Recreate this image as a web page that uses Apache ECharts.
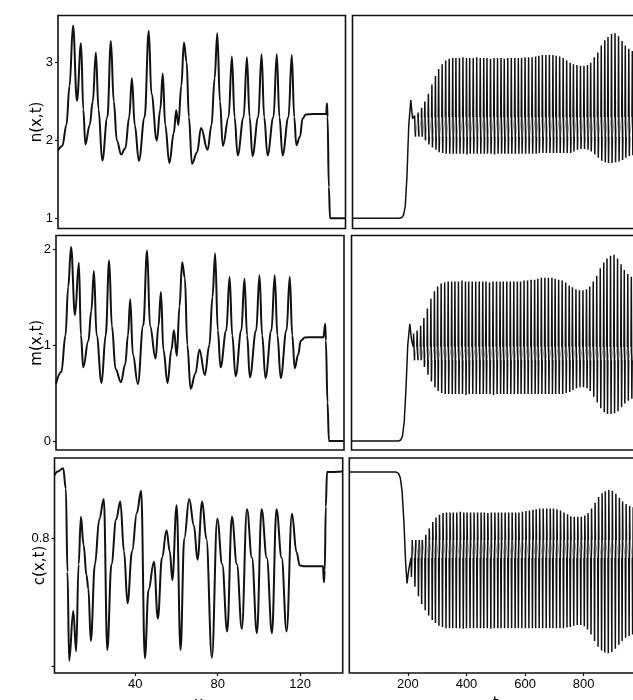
<!DOCTYPE html>
<html>
<head>
<meta charset="utf-8">
<script src="https://cdn.jsdelivr.net/npm/echarts@6/dist/echarts.min.js"></script>
<style>
  html, body { margin: 0; padding: 0; background: #fff; }
  #chart { width: 633px; height: 700px; }
</style>
</head>
<body>
<div id="chart"></div>
<script>
// ---- spatial profiles (left column): x positions and values ----
const nX = [0.9, 3, 5, 6.5, 8.2, 10.1, 12.1, 13.2, 14.2, 16.3, 17.8, 19.3, 20.6, 22.4, 24.9, 26.6, 28, 29.5, 31.6, 33.6, 35.5, 36.8, 38.2, 40.2, 43.0, 45.0, 46.3, 48.9, 50.6, 51.8, 53.0, 55.0, 57.2, 58.3, 59.4, 60.8, 62.1, 63.4, 64.5, 66.0, 68.5, 70.4, 73.6, 75.5, 77.0, 78.3, 79.6, 81.0, 83.8, 85.4, 86.7, 88.2, 91.1, 92.7, 94.0, 95.4, 98.2, 99.8, 101.1, 102.7, 105.6, 107.2, 108.5, 110.0, 112.9, 114.5, 115.7, 116.7, 118.5, 119.7, 121.3, 125, 131.2, 131.6, 131.9, 132.5, 133.1, 140.6];
const nV = [1.87, 1.93, 2.2, 2.7, 3.48, 2.51, 3.25, 2.4, 1.95, 2.2, 2.5, 3.13, 2.4, 1.74, 2.3, 3.28, 2.5, 2.0, 1.82, 1.9, 2.3, 2.8, 2.2, 1.74, 2.3, 3.41, 2.6, 2.0, 2.4, 2.86, 2.2, 1.71, 2.1, 2.39, 2.2, 2.7, 3.26, 3.01, 2.3, 1.70, 1.85, 2.16, 1.88, 2.2, 2.8, 3.38, 2.5, 1.93, 2.3, 3.08, 2.3, 1.81, 2.3, 3.07, 2.3, 1.80, 2.3, 3.11, 2.3, 1.81, 2.3, 3.11, 2.3, 1.81, 2.3, 3.10, 2.3, 1.94, 2.05, 2.28, 2.335, 2.34, 2.34, 2.48, 2.3, 1.4, 1.0, 1.0];

const mX = [0.9, 3.5, 5.5, 6.8, 8.2, 10.1, 12.0, 13.0, 14.1, 16.6, 18.0, 19.3, 20.6, 23.0, 25.0, 26.7, 28.0, 29.8, 32.4, 34.5, 35.8, 36.9, 38.2, 40.6, 43.2, 45.1, 46.5, 49.2, 50.6, 51.8, 53.0, 55.0, 56.9, 58.1, 59.5, 60.8, 62.1, 63.4, 64.6, 66.2, 68.5, 70.5, 73.1, 75.3, 76.8, 78.1, 79.4, 80.7, 83.5, 85.1, 86.4, 88.0, 90.8, 92.3, 93.6, 94.9, 98.0, 99.6, 100.9, 102.5, 105.4, 107.0, 108.3, 109.9, 112.7, 114.3, 115.5, 116.7, 118.4, 119.6, 121.6, 126, 130.6, 131.5, 131.8, 132.6, 133.3, 140.6];
const mV = [0.594, 0.72, 1.1, 1.6, 2.02, 1.31, 1.855, 1.1, 0.767, 1.043, 1.35, 1.77, 1.1, 0.605, 1.1, 1.88, 1.2, 0.75, 0.612, 0.8, 1.1, 1.475, 0.9, 0.594, 1.2, 1.983, 1.2, 0.86, 1.2, 1.551, 0.95, 0.605, 0.95, 1.154, 0.888, 1.4, 1.862, 1.70, 1.0, 0.543, 0.7, 0.95, 0.688, 1.0, 1.5, 1.952, 1.15, 0.767, 1.15, 1.71, 1.1, 0.674, 1.15, 1.689, 1.1, 0.663, 1.15, 1.727, 1.1, 0.656, 1.15, 1.727, 1.1, 0.656, 1.15, 1.71, 1.1, 0.757, 0.9, 1.043, 1.078, 1.08, 1.08, 1.22, 1.05, 0.4, 0.0, 0.0];

const cX = [0.9, 2.5, 5.1, 6.4, 7.2, 8.0, 10.0, 11.4, 12.6, 13.7, 15.0, 16.4, 17.3, 18.5, 20.5, 22.6, 24.8, 26.5, 28.5, 30.8, 32.8, 34.6, 36.3, 38.5, 40.8, 42.9, 44.7, 46.5, 49.1, 51.0, 53.0, 55.2, 56.8, 58.0, 60.1, 62.0, 63.8, 66.2, 68.5, 70.2, 72.5, 74.5, 77.2, 79.8, 82.2, 84.6, 86.9, 89.3, 91.7, 94.2, 96.6, 99.0, 101.3, 103.8, 106.3, 108.5, 111.0, 113.4, 116.0, 118.2, 119.8, 121.5, 131.0, 131.5, 131.9, 132.4, 133.0, 140.6];
const cV = [0.899, 0.905, 0.910, 0.878, 0.748, 0.609, 0.687, 0.624, 0.76, 0.834, 0.79, 0.743, 0.722, 0.640, 0.76, 0.83, 0.862, 0.626, 0.76, 0.83, 0.858, 0.78, 0.699, 0.78, 0.84, 0.875, 0.613, 0.72, 0.764, 0.675, 0.77, 0.813, 0.78, 0.735, 0.852, 0.626, 0.8, 0.862, 0.82, 0.767, 0.858, 0.8, 0.614, 0.831, 0.76, 0.655, 0.834, 0.76, 0.659, 0.846, 0.77, 0.652, 0.846, 0.77, 0.652, 0.846, 0.77, 0.655, 0.839, 0.779, 0.758, 0.757, 0.757, 0.732, 0.75, 0.85, 0.904, 0.905];

// ---- time series (right column) ----
// start-up segment before the oscillations
const initT = [0, 160, 168, 174, 180, 186, 192, 199, 205];
const nInit = [1.0, 1.0, 1.01, 1.04, 1.15, 1.55, 2.2, 2.52, 2.28];
const mInit = [0.0, 0.0, 0.01, 0.05, 0.2, 0.55, 1.0, 1.22, 1.05];
const cInitT = [0, 160, 168, 174, 180, 186, 192, 197, 203];
const cInit = [0.904, 0.904, 0.902, 0.895, 0.875, 0.83, 0.765, 0.73, 0.752];

// time of each oscillation spike
const cycleT = [212, 224, 236, 247, 259, 271, 283, 294, 306, 318,
  330, 342, 353, 365, 377, 389, 400, 412, 424, 436,
  448, 459, 471, 483, 495, 507, 518, 530, 542, 554,
  566, 577, 589, 601, 613, 625, 636, 648, 660, 672,
  684, 695, 707, 719, 731, 743, 754, 766, 778, 790,
  802, 813, 825, 837, 849, 861, 872, 884, 896, 908,
  920, 931, 943, 955, 967, 979, 990];

// spike maxima / minima per cycle
const nHi = [2.32, 2.36, 2.42, 2.50, 2.60, 2.72, 2.83, 2.92, 2.98, 3.03,
  3.05, 3.06, 3.06, 3.06, 3.07, 3.06, 3.06, 3.06, 3.07, 3.06,
  3.06, 3.06, 3.05, 3.06, 3.06, 3.06, 3.05, 3.06, 3.06, 3.06,
  3.06, 3.06, 3.07, 3.07, 3.07, 3.08, 3.09, 3.10, 3.10, 3.10,
  3.10, 3.09, 3.08, 3.06, 3.03, 3.00, 2.98, 2.97, 2.96, 2.96,
  2.97, 3.00, 3.07, 3.13, 3.22, 3.29, 3.33, 3.37, 3.38, 3.34,
  3.28, 3.22, 3.18, 3.15, 3.12, 3.10, 3.08];
const nLo = [2.12, 2.08, 2.05, 2.00, 1.95, 1.91, 1.88, 1.85, 1.84, 1.83,
  1.83, 1.83, 1.83, 1.83, 1.83, 1.82, 1.83, 1.83, 1.83, 1.83,
  1.83, 1.83, 1.83, 1.82, 1.83, 1.83, 1.83, 1.83, 1.83, 1.83,
  1.83, 1.83, 1.83, 1.83, 1.83, 1.83, 1.84, 1.84, 1.84, 1.84,
  1.84, 1.84, 1.84, 1.84, 1.84, 1.84, 1.86, 1.88, 1.89, 1.89,
  1.88, 1.86, 1.82, 1.78, 1.74, 1.72, 1.71, 1.71, 1.72, 1.73,
  1.75, 1.78, 1.80, 1.81, 1.82, 1.83, 1.83];
const mHi = [1.12, 1.15, 1.20, 1.28, 1.38, 1.48, 1.56, 1.61, 1.64, 1.65,
  1.66, 1.66, 1.66, 1.66, 1.67, 1.66, 1.66, 1.66, 1.66, 1.66,
  1.66, 1.66, 1.65, 1.66, 1.66, 1.66, 1.66, 1.66, 1.66, 1.66,
  1.66, 1.66, 1.67, 1.67, 1.68, 1.68, 1.69, 1.70, 1.70, 1.70,
  1.70, 1.69, 1.68, 1.67, 1.65, 1.62, 1.60, 1.58, 1.57, 1.57,
  1.58, 1.61, 1.66, 1.72, 1.80, 1.86, 1.90, 1.93, 1.94, 1.90,
  1.84, 1.78, 1.74, 1.71, 1.69, 1.67, 1.66];
const mLo = [0.95, 0.90, 0.84, 0.77, 0.69, 0.62, 0.56, 0.52, 0.50, 0.49,
  0.49, 0.49, 0.49, 0.49, 0.49, 0.48, 0.49, 0.49, 0.49, 0.49,
  0.49, 0.49, 0.49, 0.48, 0.49, 0.49, 0.49, 0.49, 0.49, 0.49,
  0.49, 0.49, 0.49, 0.49, 0.49, 0.49, 0.49, 0.49, 0.49, 0.49,
  0.49, 0.49, 0.49, 0.49, 0.50, 0.51, 0.53, 0.55, 0.56, 0.56,
  0.55, 0.52, 0.46, 0.40, 0.34, 0.30, 0.28, 0.28, 0.29, 0.31,
  0.35, 0.39, 0.42, 0.44, 0.46, 0.47, 0.48];
const cHi = [0.772, 0.778, 0.786, 0.796, 0.806, 0.816, 0.826, 0.833, 0.837, 0.840,
  0.841, 0.841, 0.841, 0.841, 0.842, 0.841, 0.841, 0.841, 0.841, 0.841,
  0.841, 0.841, 0.840, 0.841, 0.841, 0.841, 0.841, 0.841, 0.841, 0.841,
  0.841, 0.841, 0.842, 0.843, 0.844, 0.845, 0.846, 0.847, 0.847, 0.847,
  0.847, 0.847, 0.846, 0.844, 0.841, 0.838, 0.835, 0.834, 0.834, 0.834,
  0.836, 0.840, 0.847, 0.856, 0.865, 0.871, 0.874, 0.876, 0.875, 0.870,
  0.864, 0.858, 0.854, 0.851, 0.849, 0.847, 0.846];
const cLo = [0.740, 0.725, 0.710, 0.698, 0.688, 0.680, 0.673, 0.668, 0.664, 0.662,
  0.660, 0.660, 0.660, 0.660, 0.660, 0.659, 0.660, 0.660, 0.660, 0.660,
  0.660, 0.660, 0.660, 0.659, 0.660, 0.660, 0.660, 0.660, 0.660, 0.660,
  0.660, 0.660, 0.660, 0.660, 0.660, 0.660, 0.660, 0.660, 0.660, 0.660,
  0.660, 0.660, 0.660, 0.660, 0.660, 0.661, 0.662, 0.664, 0.665, 0.665,
  0.663, 0.658, 0.650, 0.640, 0.631, 0.625, 0.622, 0.621, 0.623, 0.628,
  0.634, 0.640, 0.645, 0.648, 0.650, 0.652, 0.654];
// slow part of each cycle between spikes: [after spike, before next spike]
const nBand = [2.05, 2.30];
const mBand = [0.84, 0.98];
const cBand = [0.798, 0.770];

// ---- axis ticks ----
const nTicks = [1, 2, 3];
const mTicks = [0, 1, 2];
const cTicks = [0.6, 0.8];
const cLabels = [0.8];
const xTicks = [40, 80, 120];
const tTicks = [200, 400, 600, 800];

const pairs = (xs, ys) => xs.map((x, i) => [x, ys[i]]);

// fast spikes (one broken polyline) and the slow drift between them
function spikeTrain(t0, v0, first, second, band) {
  const spikes = pairs(t0, v0);
  const drift = [];
  cycleT.forEach((t, i) => {
    spikes.push([t - 1.2, band[1]], [t, first[i]], [t + 1.8, second[i]], [t + 3, band[0]], [t + 3.05, '-']);
    if (i + 1 < cycleT.length) {
      drift.push([t + 3, band[0]], [cycleT[i + 1] - 1.2, band[1]], [cycleT[i + 1] - 1.15, '-']);
    }
  });
  return { spikes, drift };
}

const FONT = 'Liberation Sans';
const NAME_FONT = 'DejaVu Sans';
const INK = '#111';

// fixed panel rectangles; no automatic shrinking to fit names
const grids = [
  { left: 58, top: 15.5, width: 287.5, height: 213 },
  { left: 56, top: 235.5, width: 288, height: 214.5 },
  { left: 54.5, top: 458, width: 288.2, height: 215 },
  { left: 352.5, top: 15.5, width: 293, height: 213 },
  { left: 351.5, top: 235.5, width: 293, height: 214.5 },
  { left: 349.3, top: 458, width: 293, height: 215 }
].map(g => Object.assign({
  show: true, borderColor: INK, borderWidth: 1.6,
  containLabel: false, outerBoundsMode: 'none'
}, g));

const yRanges = [[0.869, 3.607], [-0.094, 2.14], [0.590, 0.926]];
const yTickSets = [nTicks, mTicks, cTicks];
const yLabelSets = [nTicks, mTicks, cLabels];
const yNames = ['n(x,t)', 'm(x,t)', 'c(x,t)'];
const yNameGaps = [13, 11, 7];

const yAxes = [];
for (let col = 0; col < 2; col++) {
  for (let r = 0; r < 3; r++) {
    const left = col === 0;
    yAxes.push({
      type: 'value', gridIndex: col * 3 + r,
      min: yRanges[r][0], max: yRanges[r][1],
      axisLine: { show: false },
      splitLine: { show: false },
      axisTick: { show: left, length: 3, inside: false, lineStyle: { color: INK, width: 1.2 }, customValues: yTickSets[r] },
      axisLabel: { show: left, margin: 5, color: '#000', fontFamily: FONT, fontSize: 13, customValues: yLabelSets[r] },
      name: left ? yNames[r] : '',
      nameLocation: 'middle', nameGap: yNameGaps[r], nameRotate: 90,
      nameMoveOverlap: false,
      nameTextStyle: { color: '#000', fontFamily: NAME_FONT, fontSize: 15 }
    });
  }
}

const xAxes = [];
for (let col = 0; col < 2; col++) {
  for (let r = 0; r < 3; r++) {
    const bottom = r === 2;
    const left = col === 0;
    xAxes.push({
      type: 'value', gridIndex: col * 3 + r,
      min: left ? 0.9 : 0, max: left ? 140.6 : 1000,
      axisLine: { show: false },
      splitLine: { show: false },
      axisTick: { show: bottom, length: 3, lineStyle: { color: INK, width: 1.2 }, customValues: left ? xTicks : tTicks },
      axisLabel: { show: bottom, margin: 5, color: '#000', fontFamily: FONT, fontSize: 13, customValues: left ? xTicks : tTicks },
      name: bottom ? (left ? 'x' : 't') : '',
      nameLocation: 'middle', nameGap: 24,
      nameMoveOverlap: false,
      nameTextStyle: { color: '#000', fontFamily: NAME_FONT, fontSize: 15 }
    });
  }
}

const leftLine = (idx, data) => ({
  type: 'line', xAxisIndex: idx, yAxisIndex: idx, data,
  showSymbol: false, smooth: 0.4, smoothMonotone: 'x',
  lineStyle: { color: INK, width: 2 }, animation: false
});
const rightLines = (idx, parts) => [
  {
    type: 'line', xAxisIndex: idx, yAxisIndex: idx, data: parts.drift,
    showSymbol: false, connectNulls: false,
    lineStyle: { color: '#8a8a8a', width: 0.8 }, animation: false
  },
  {
    type: 'line', xAxisIndex: idx, yAxisIndex: idx, data: parts.spikes,
    showSymbol: false, connectNulls: false,
    lineStyle: { color: INK, width: 1.5 }, animation: false
  }
];

const chart = echarts.init(document.getElementById('chart'), null, { renderer: 'canvas' });
chart.setOption({
  backgroundColor: '#fff',
  animation: false,
  grid: grids,
  xAxis: xAxes,
  yAxis: yAxes,
  series: [
    leftLine(0, pairs(nX, nV)),
    leftLine(1, pairs(mX, mV)),
    leftLine(2, pairs(cX, cV)),
    ...rightLines(3, spikeTrain(initT, nInit, nHi, nLo, nBand)),
    ...rightLines(4, spikeTrain(initT, mInit, mHi, mLo, mBand)),
    ...rightLines(5, spikeTrain(cInitT, cInit, cLo, cHi, cBand))
  ]
});
</script>
</body>
</html>
